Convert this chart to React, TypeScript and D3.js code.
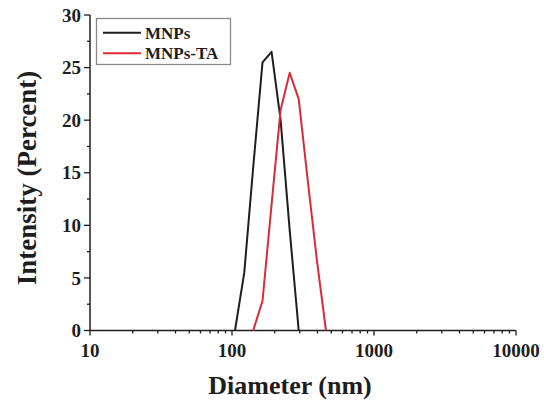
import * as d3 from 'd3'

// diameter bins (nm) and intensity (%)
const mnpsSize = [105, 122, 141, 164, 190, 220, 255, 295]
const mnpsIntensity = [0, 5.5, 15.5, 25.5, 26.5, 20, 9.5, 0]
const taSize = [141, 164, 190, 220, 255, 295, 342, 396, 459]
const taIntensity = [0, 2.8, 12, 21, 24.5, 22, 14.2, 6.7, 0]

const xMajor = [10, 100, 1000, 10000]
const yMajor = [0, 5, 10, 15, 20, 25, 30]

const width = 544
const height = 403
const font = '"Liberation Serif", "Times New Roman", serif'
const ink = '#1e1e1e'

function App() {
  const x = d3.scaleLog().domain([10, 10000]).range([90, 516])
  const y = d3.scaleLinear().domain([0, 30]).range([330.5, 15])

  const line = d3.line<[number, number]>()
    .x(d => x(d[0]))
    .y(d => y(d[1]))

  const mnps = line(mnpsSize.map((s, i) => [s, mnpsIntensity[i]]))
  const ta = line(taSize.map((s, i) => [s, taIntensity[i]]))

  // minor ticks between decades
  const xMinor: number[] = []
  for (let dec = 10; dec < 10000; dec *= 10) {
    for (let k = 2; k <= 9; k++) xMinor.push(dec * k)
  }
  const yMinor = d3.range(2.5, 30, 5)

  const x0 = x(10)
  const y0 = y(0)

  return (
    <svg width={width} height={height} style={{ position: 'absolute', left: 0, top: 0, background: '#fff' }}>
      {/* axes */}
      <line x1={x0} x2={x0} y1={y(30)} y2={y0} stroke={ink} strokeWidth={1.5} />
      <line x1={x0} x2={x(10000)} y1={y0} y2={y0} stroke={ink} strokeWidth={1.5} />

      {yMajor.map(v => (
        <g key={'ym' + v}>
          <line x1={x0 - 6} x2={x0} y1={y(v)} y2={y(v)} stroke={ink} strokeWidth={1.3} />
          <text x={x0 - 9} y={y(v)} dy="0.35em" textAnchor="end" fontFamily={font}
            fontWeight="bold" fontSize={19} fill={ink}>{v}</text>
        </g>
      ))}
      {yMinor.map(v => (
        <line key={'yn' + v} x1={x0 - 3} x2={x0} y1={y(v)} y2={y(v)} stroke={ink} strokeWidth={1.3} />
      ))}

      {xMajor.map(v => (
        <g key={'xm' + v}>
          <line x1={x(v)} x2={x(v)} y1={y0} y2={y0 + 5} stroke={ink} strokeWidth={1.3} />
          <text x={x(v)} y={357} textAnchor="middle" fontFamily={font}
            fontWeight="bold" fontSize={19} fill={ink}>{v}</text>
        </g>
      ))}
      {xMinor.map(v => (
        <line key={'xn' + v} x1={x(v)} x2={x(v)} y1={y0} y2={y0 + 3} stroke={ink} strokeWidth={1.3} />
      ))}

      {/* axis titles */}
      <text transform="translate(36,178) rotate(-90)" textAnchor="middle" fontFamily={font}
        fontWeight="bold" fontSize={27} fill={ink}>Intensity (Percent)</text>
      <text x={290} y={394} textAnchor="middle" fontFamily={font}
        fontWeight="bold" fontSize={26} fill={ink}>Diameter (nm)</text>

      {/* data */}
      <path d={mnps ?? ''} fill="none" stroke={ink} strokeWidth={2} strokeLinejoin="round" />
      <path d={ta ?? ''} fill="none" stroke="#dc2a36" strokeWidth={2} strokeLinejoin="round" />

      {/* legend */}
      <rect x={96.5} y={18.5} width={134} height={46} fill="#fff" stroke="#8a8a8a" strokeWidth={1.3} />
      <line x1={103} x2={141} y1={32.7} y2={32.7} stroke={ink} strokeWidth={2} />
      <line x1={103} x2={141} y1={53.3} y2={53.3} stroke="#dc2a36" strokeWidth={2} />
      <text x={145} y={38.5} fontFamily={font} fontWeight="bold" fontSize={17} fill={ink}>MNPs</text>
      <text x={145} y={59} fontFamily={font} fontWeight="bold" fontSize={17} fill={ink}>MNPs-TA</text>
    </svg>
  )
}

export default App
